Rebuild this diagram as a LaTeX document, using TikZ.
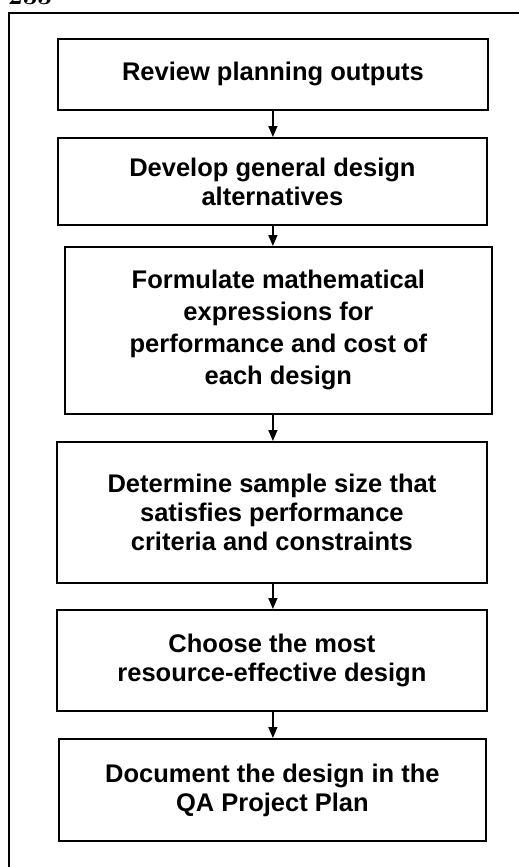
\documentclass[tikz,border=0pt]{standalone}
\usepackage{fontspec}
\setsansfont{Liberation Sans}
\usetikzlibrary{arrows.meta, positioning}
\tikzset{
  stepbox/.style={rectangle, draw=black, line width=1.8pt, align=center,
    anchor=north west, inner sep=0pt,
    font=\sffamily\bfseries\fontsize{25.5}{29}\selectfont},
  arrow/.style={-{Triangle[width=9pt,length=11pt]}, line width=1.4pt},
  frame/.style={line width=1.8pt}
}
\begin{document}
\begin{tikzpicture}[x=1pt, y=-1pt]
  \useasboundingbox (0,0) rectangle (519,867);
  % Page number, cut off at the top
  \node[font=\bfseries\fontsize{26}{30}\selectfont, anchor=base west, inner sep=0pt] (pagenum) at (8,5) {233};
  % Outer frame
  \draw[frame] (9,900) -- (9,13) -- (560,13);

  % Steps
  \node[stepbox, minimum width=430pt, minimum height=71pt] (review) at (57,38) {Review planning outputs};
  \node[stepbox, minimum width=429pt, minimum height=87pt] (develop) at (57,137) {Develop general design\\alternatives};
  \node[stepbox, minimum width=427pt, minimum height=167pt,
    font=\sffamily\bfseries\fontsize{25.5}{32}\selectfont] (formulate) at (64,246)
    {Formulate mathematical\\expressions for\\performance and cost of\\each design};
  \node[stepbox, minimum width=430pt, minimum height=141pt] (determine) at (56,441) {Determine sample size that\\satisfies performance\\criteria and constraints};
  \node[stepbox, minimum width=430pt, minimum height=101pt] (choose) at (56,609) {Choose the most\\resource-effective design};
  \node[stepbox, minimum width=427pt, minimum height=102pt] (document) at (58,738) {Document the design in the\\QA Project Plan};

  % Arrows
  \draw[arrow] (review.south) -- (develop.north -| review.south);
  \draw[arrow] (develop.south -| review.south) -- (formulate.north -| review.south);
  \draw[arrow] (formulate.south -| review.south) -- (determine.north -| review.south);
  \draw[arrow] (determine.south -| review.south) -- (choose.north -| review.south);
  \draw[arrow] (choose.south -| review.south) -- (document.north -| review.south);
\end{tikzpicture}
\end{document}
